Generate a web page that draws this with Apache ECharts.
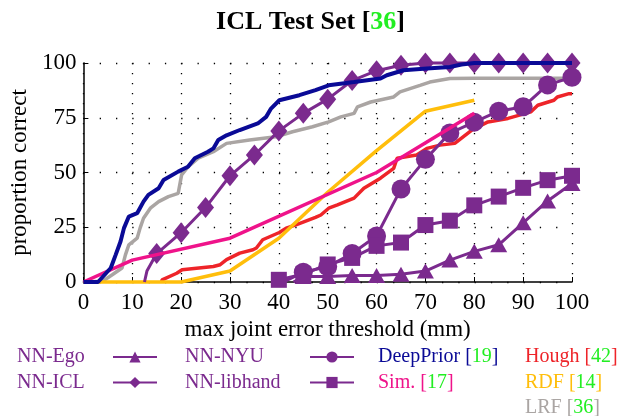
<!DOCTYPE html>
<html><head><meta charset="utf-8">
<script src="https://cdn.jsdelivr.net/npm/echarts@6/dist/echarts.min.js"></script>
<style>html,body{margin:0;padding:0;background:#fff}#c{width:621px;height:416px}</style>
</head><body><div id="c"></div>
<script>
// ---- data (x = max joint error threshold in mm, y = proportion correct in %) ----
const nnEgo = [[43,0],[45,2.5],[50,2.5],[55,3],[60,3],[65,3.5],[70,5],[75,10],[80,14],[85,17],[90,27],[95,37],[100,45]];
const nnIcl = [[12.5,0],[13,5],[15,13],[20,22.5],[25,34],[30,48.5],[35,58],[40,69],[45,77],[50,83.5],[55,92],[60,96.5],[65,99],[70,100],[75,100],[80,100],[85,100],[90,100],[95,100],[100,100]];
const nnNyu = [[41,0],[45,4.5],[50,7],[55,13],[60,21],[65,42.5],[70,56],[75,68],[80,73],[85,78],[90,80],[95,90],[100,93.5]];
const nnLibhand = [[40,1],[45,3.5],[50,8],[55,11],[60,16.5],[65,18],[70,26],[75,28],[80,35],[85,39],[90,43],[95,46.5],[100,48.5]];
const deepPrior = [[0,0],[3,0],[5.6,6.4],[6.6,12.4],[7.6,18.5],[8.3,24.6],[9.3,29.9],[11,31.4],[12.3,36.7],[13.3,39.8],[15.4,42.8],[16.4,46.6],[19.4,50.4],[21.4,52.6],[22.8,56.5],[25.5,59.5],[26.6,61],[27.6,64.8],[29.3,67],[32,69.4],[35.7,72.4],[37.4,75.4],[38.4,79.2],[40.1,83],[44.2,85.3],[47.5,87.6],[50.2,89.8],[55.4,91.3],[60.8,92.9],[62.1,94.4],[65.5,96.7],[70.3,97.5],[75,98.2],[77.4,99.3],[80,100],[100,100]];
const sim = [[0,0],[10,10],[30,20],[60,50],[80,77]];
const hough = [[16,0],[16.1,1],[19.1,4],[20.2,5.6],[26.6,7.1],[28,7.9],[29.3,10.2],[32,13.2],[34.7,14.7],[35.4,15.5],[36.7,19.3],[40.1,22.6],[41.5,24.6],[43.5,26.1],[47.5,29.5],[48.6,30.6],[50.2,33.7],[52,35.2],[55.4,38.3],[57.4,42.8],[60.8,47.4],[63.5,51.9],[64.2,56.5],[68.2,58],[70.3,61],[73,62.5],[76,63.3],[79.5,69.4],[82.8,73.1],[86.9,74.7],[91.6,77.7],[93,80.7],[96.3,83],[97,84.5],[99.4,86],[100,86]];
const rdf = [[0,0],[20,0],[30,5],[40,20],[50,41],[60,60],[70,78],[80,83]];
const lrf = [[0,0],[3.9,0.3],[5.9,3.3],[7.9,6.4],[8.6,12.4],[9.3,17],[11,20],[11.6,24.6],[12.3,29.1],[13.7,33.7],[15.4,36.7],[17.4,39],[19.4,40.5],[20.1,48.9],[21.4,52.6],[23.5,56.5],[26.6,59.5],[29.3,63.3],[34,64.8],[39.4,66.3],[42.8,68.6],[46.9,70.9],[50.2,73.1],[52.7,75.4],[55.4,77],[56.1,80],[58.8,82.2],[63.5,84.5],[64.8,86.8],[68.9,89.8],[70.9,91.3],[75,92.9],[80,93],[100,93]];

const refNumbers = {'DeepPrior':'19','Sim.':'17','Hough':'42','RDF':'14','LRF':'36'};
const titleText = 'ICL Test Set';
const titleRef = '36';
const xTitle = 'max joint error threshold (mm)';
const yTitle = 'proportion correct';

// ---- styles ----
const FONT = 'Liberation Serif';
const PURPLE = '#7b2a8e';
const C = {DeepPrior:'#0a0a96', 'Sim.':'#ef138a', Hough:'#ee2429', RDF:'#ffbe0b', LRF:'#aaa5a3'};
const GREEN = '#22ee22';

function markerData(arr){
  return arr.map(p => (p[0] % 5 === 0) ? {value:p} : {value:p, symbol:'none'});
}
function purpleSeries(name, data, symbol, size){
  return {name, type:'line', data:markerData(data), symbol, symbolSize:size, clip:false,
    showAllSymbol:true, z:3,
    lineStyle:{color:PURPLE, width:3}, itemStyle:{color:PURPLE}, emphasis:{disabled:true}};
}
function plainSeries(name, data, width, z){
  return {name, type:'line', data, symbol:'none', clip:false, z:z,
    lineStyle:{color:C[name], width:width}, itemStyle:{color:C[name]}, emphasis:{disabled:true}};
}

const chart = echarts.init(document.getElementById('c'), null, {renderer:'canvas'});

const LH = 20;
const richPlain = {};
Object.keys(C).forEach((k,i) => {
  richPlain['n'+i] = {color:C[k], fontFamily:FONT, fontSize:20, lineHeight:LH};
});
richPlain.g = {color:GREEN, fontFamily:FONT, fontSize:20, lineHeight:LH};
function plainFormatter(name){
  const i = Object.keys(C).indexOf(name);
  return `{n${i}|${name} [}{g|${refNumbers[name]}}{n${i}|]}`;
}

const LEG_TOP = 347, LEG_GAP = 5.5;
function purpleLegend(data, left, w){
  return {data, left, top:LEG_TOP, height:80, padding:0, orient:'vertical', align:'right', itemGap:LEG_GAP, itemWidth:44, itemHeight:14,
    selectedMode:false, formatter: n => `{t|${n}}`,
    textStyle:{rich:{t:{width:w, align:'left', color:PURPLE, fontFamily:FONT, fontSize:20, lineHeight:LH}}}};
}
function plainLegend(data, left){
  return {data, left, top:LEG_TOP, height:80, padding:0, orient:'vertical', align:'left', itemGap:LEG_GAP, itemWidth:1, itemHeight:14,
    selectedMode:false, icon:'rect', itemStyle:{opacity:0}, lineStyle:{opacity:0},
    formatter: plainFormatter, textStyle:{rich:richPlain}};
}
const tickRich = {v:{fontFamily:FONT, fontSize:23, color:'#000'}};

chart.setOption({
  animation:false,
  backgroundColor:'#fff',
  textStyle:{fontFamily:FONT},
  title:{
    text:`{b|${titleText} }{r|[}{g|${titleRef}}{r|]}`,
    left:'center', top:4,
    textStyle:{fontFamily:FONT, rich:{
      b:{fontFamily:FONT, fontWeight:'bold', fontSize:26, color:'#000'},
      r:{fontFamily:FONT, fontSize:26, color:'#000'},
      g:{fontFamily:FONT, fontSize:26, color:GREEN}
    }}
  },
  legend:[
    purpleLegend(['NN-Ego','NN-ICL'], 17, 91),
    purpleLegend(['NN-NYU','NN-libhand'], 185, 120),
    plainLegend(['DeepPrior','Sim.'], 372),
    plainLegend(['Hough','RDF','LRF'], 519)
  ],
  grid:{left:82, right:49, top:63, bottom:134, containLabel:false},
  xAxis:{
    type:'value', min:0, max:100, interval:10,
    name:xTitle, nameLocation:'middle', nameGap:34,
    nameTextStyle:{fontFamily:FONT, fontSize:23, color:'#000'},
    axisLine:{show:true, onZero:false, lineStyle:{color:'#000', width:1.5}},
    axisTick:{show:true, inside:true, length:5, lineStyle:{color:'#000'}},
    axisLabel:{fontFamily:FONT, fontSize:23, color:'#000', margin:9, formatter:v => `{v|${v}}`, rich:tickRich},
    splitLine:{show:true, lineStyle:{color:'#000', width:1.3, type:[1.3,8.7]}}
  },
  yAxis:{
    type:'value', min:0, max:100, interval:25,
    name:yTitle, nameLocation:'middle', nameGap:46, nameRotate:90,
    nameTextStyle:{fontFamily:FONT, fontSize:23, color:'#000'},
    axisLine:{show:true, onZero:false, lineStyle:{color:'#000', width:1.5}},
    axisTick:{show:true, inside:true, length:5, lineStyle:{color:'#000'}},
    axisLabel:{fontFamily:FONT, fontSize:23, color:'#000', margin:7, formatter:v => `{v|${v}}`, rich:tickRich},
    splitLine:{show:true, lineStyle:{color:'#000', width:1.3, type:[1.3,15]}}
  },
  series:[
    plainSeries('LRF', lrf, 3.5, 2),
    plainSeries('Hough', hough, 3.5, 2),
    plainSeries('RDF', rdf, 3.5, 2),
    purpleSeries('NN-Ego', nnEgo, 'triangle', [17,15]),
    purpleSeries('NN-ICL', nnIcl, 'diamond', [17,21]),
    purpleSeries('NN-NYU', nnNyu, 'circle', 19),
    purpleSeries('NN-libhand', nnLibhand, 'rect', 16),
    plainSeries('Sim.', sim, 3.5, 4),
    plainSeries('DeepPrior', deepPrior, 4, 4)
  ]
});
</script></body></html>
